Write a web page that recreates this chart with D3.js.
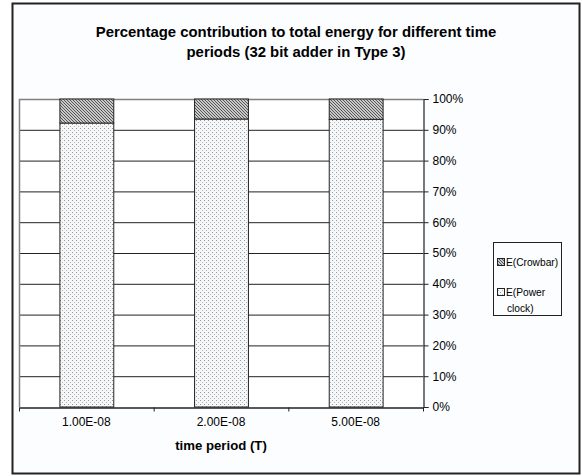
<!DOCTYPE html>
<html>
<head>
<meta charset="utf-8">
<script src="https://cdn.jsdelivr.net/npm/d3@7"></script>
<style>
  html, body { margin: 0; padding: 0; background: #fff; }
  svg { display: block; font-family: "Liberation Sans", Arial, sans-serif; }
</style>
</head>
<body>
<svg id="chart" width="582" height="476"></svg>
<script>
// Time periods on the category axis
const categories = ["1.00E-08", "2.00E-08", "5.00E-08"];
// Share of total energy (fractions of 1) per time period
const powerClock = [0.922, 0.935, 0.934];
const crowbar = [0.078, 0.065, 0.066];
// Right-hand axis ticks
const yTicks = [0, 0.1, 0.2, 0.3, 0.4, 0.5, 0.6, 0.7, 0.8, 0.9, 1.0];

const svg = d3.select("#chart");
const W = 582, H = 476;
const plot = { left: 19, right: 423, top: 99, bottom: 407 };

// Patterns for the two series
const defs = svg.append("defs");
const hatch = defs.append("pattern")
  .attr("id", "hatch").attr("patternUnits", "userSpaceOnUse")
  .attr("width", 3).attr("height", 3);
hatch.append("rect").attr("width", 3).attr("height", 3).attr("fill", "#c8c8c8");
hatch.append("path").attr("d", "M-1,2 L1,4 M0,0 L3,3 M2,-1 L4,1")
  .attr("stroke", "#4a4a4a").attr("stroke-width", 0.9);

const dots = defs.append("pattern")
  .attr("id", "dots").attr("patternUnits", "userSpaceOnUse")
  .attr("width", 4).attr("height", 4);
dots.append("rect").attr("width", 4).attr("height", 4).attr("fill", "#f6f7f8");
dots.append("rect").attr("x", 0).attr("y", 0).attr("width", 1).attr("height", 1).attr("fill", "#999");
dots.append("rect").attr("x", 2).attr("y", 2).attr("width", 1).attr("height", 1).attr("fill", "#b4b4b4");

// Chart background and frame
svg.append("rect").attr("x", 0).attr("y", 0).attr("width", W).attr("height", H).attr("fill", "#fff");
svg.append("rect").attr("x", 12.5).attr("y", 3.5).attr("width", 567).attr("height", 470)
  .attr("fill", "#fbfdff").attr("stroke", "#222").attr("stroke-width", 2);

// Title
const title = svg.append("text").attr("text-anchor", "middle")
  .attr("font-weight", "bold").attr("font-size", 14.9).attr("fill", "#000");
title.append("tspan").attr("x", 296).attr("y", 37).text("Percentage contribution to total energy for different time");
title.append("tspan").attr("x", 296).attr("y", 57).text("periods (32 bit adder in Type 3)");

// Scales
const x = d3.scaleBand().domain(categories)
  .range([plot.left, plot.right]).paddingInner(0.6).paddingOuter(0.3);
const y = d3.scaleLinear().domain([0, 1]).range([plot.bottom, plot.top]);

// Plot area
svg.append("rect").attr("x", plot.left).attr("y", plot.top)
  .attr("width", plot.right - plot.left).attr("height", plot.bottom - plot.top)
  .attr("fill", "#fff");

// Gridlines
const grid = svg.append("g").attr("transform", `translate(${plot.left},0)`)
  .call(d3.axisRight(y).tickValues(yTicks.slice(1, -1)).tickSize(plot.right - plot.left).tickFormat(""));
grid.select(".domain").remove();
grid.selectAll("line").attr("stroke", "#222").attr("stroke-width", 1);

// Plot area border (top and left) in grey
svg.append("path")
  .attr("d", `M${plot.left + 0.5},${plot.bottom} V${plot.top + 0.5} H${plot.right}`)
  .attr("fill", "none").attr("stroke", "#808080").attr("stroke-width", 1.5);

// Stacked bars
const rows = categories.map((c, i) => ({ cat: c, power: powerClock[i], crowbar: crowbar[i] }));
const stacked = d3.stack().keys(["power", "crowbar"])(rows);
const fills = { power: "url(#dots)", crowbar: "url(#hatch)" };
svg.append("g").selectAll("g").data(stacked).join("g")
  .attr("fill", d => fills[d.key])
  .selectAll("rect").data(d => d).join("rect")
  .attr("x", d => x(d.data.cat) + 0.5)
  .attr("y", d => y(d[1]))
  .attr("width", x.bandwidth())
  .attr("height", d => y(d[0]) - y(d[1]))
  .attr("stroke", "#222").attr("stroke-width", 1);

// Right value axis
const yAxis = svg.append("g").attr("transform", `translate(${plot.right + 0.5},0)`)
  .call(d3.axisRight(y).tickValues(yTicks).tickSize(5).tickPadding(4).tickFormat(d3.format(".0%")));
yAxis.select(".domain").attr("stroke", "#222").attr("stroke-width", 1.2);
yAxis.selectAll("line").attr("stroke", "#222");
yAxis.selectAll("text").attr("font-size", 12).attr("fill", "#000")
  .attr("font-family", "'Liberation Sans', Arial, sans-serif");

// Category axis
const xAxis = svg.append("g").attr("transform", `translate(0,${plot.bottom + 0.5})`)
  .call(d3.axisBottom(x).tickSize(0).tickPadding(10));
xAxis.select(".domain").attr("stroke", "#222").attr("stroke-width", 1.5);
xAxis.selectAll("text").attr("font-size", 12).attr("fill", "#000")
  .attr("font-family", "'Liberation Sans', Arial, sans-serif");
// Small ticks between categories
const step = x.step();
xAxis.append("g").selectAll("line").data(d3.range(0, categories.length + 1)).join("line")
  .attr("x1", i => plot.left + 0.5 + i * step).attr("x2", i => plot.left + 0.5 + i * step)
  .attr("y1", 0).attr("y2", 4).attr("stroke", "#222");

// Axis title
svg.append("text").attr("x", (plot.left + plot.right) / 2).attr("y", 450)
  .attr("text-anchor", "middle").attr("font-weight", "bold").attr("font-size", 13.2)
  .text("time period (T)");

// Legend
const lg = svg.append("g");
lg.append("rect").attr("x", 493.5).attr("y", 242.5).attr("width", 68).attr("height", 73)
  .attr("fill", "#fbfdff").attr("stroke", "#222").attr("stroke-width", 1);
const legendItems = [
  { fill: "url(#hatch)", lines: ["E(Crowbar)"], y: 262 },
  { fill: "url(#dots)", lines: ["E(Power", "clock)"], y: 292 }
];
legendItems.forEach(it => {
  lg.append("rect").attr("x", 497.5).attr("y", it.y - 3.5).attr("width", 7).attr("height", 7)
    .attr("fill", it.fill).attr("stroke", "#222").attr("stroke-width", 1);
  const t = lg.append("text").attr("font-size", 10.2).attr("fill", "#000");
  it.lines.forEach((ln, k) => {
    t.append("tspan").attr("x", k === 0 ? 506 : 507).attr("y", it.y + 4 + k * 16).text(ln);
  });
});
</script>
</body>
</html>
